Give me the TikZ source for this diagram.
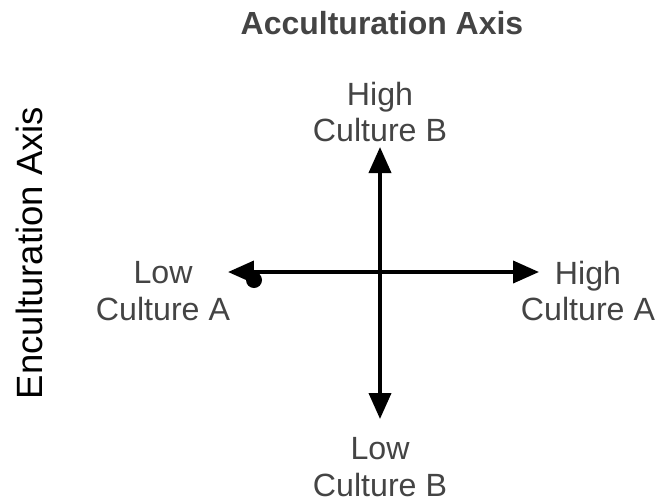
\documentclass[tikz,border=0pt]{standalone}
\usepackage{fontspec}
\setmainfont{Liberation Sans}
\usepackage{tikz}
\usetikzlibrary{arrows.meta, positioning}
\definecolor{labelgray}{HTML}{444444}
\tikzset{
  % label styles
  axislabel/.style={text=labelgray, font=\fontsize{18.3}{21}\selectfont, align=center, inner sep=1pt},
  axistitle/.style={text=labelgray, font=\bfseries\fontsize{18.2}{21}\selectfont},
  sidetitle/.style={text=black, font=\fontsize{20.8}{24}\selectfont, rotate=90},
  % arrow style
  axisarrow/.style={{Triangle[length=0.52cm, width=0.44cm]}-{Triangle[length=0.52cm, width=0.44cm]}, line width=2.2pt},
}
\begin{document}
\begin{tikzpicture}[x=0.02cm, y=-0.02cm]
    \useasboundingbox (0,0) rectangle (655,501);
    % titles
    \node[axistitle] (acc) at (382,23) {Acculturation Axis};
    \node[sidetitle] (enc) at (29,253) {Enculturation Axis};
    % arrow ends
    \coordinate (west) at (228,272);
    \coordinate (east) at (539,272);
    \coordinate (north) at (380,147);
    \coordinate (south) at (380,419);
    % axes
    \draw[axisarrow] (west) -- (east);
    \draw[axisarrow] (north) -- (south);
    \fill (254,280) circle (8);
    % end labels
    \node[axislabel] (highB) at (380,112) {High\\Culture B};
    \node[axislabel] (lowB) at (380,467) {Low\\Culture B};
    \node[axislabel] (lowA) at (163,291) {Low\\Culture A};
    \node[axislabel] (highA) at (588,291) {High\\Culture A};
\end{tikzpicture}
\end{document}
